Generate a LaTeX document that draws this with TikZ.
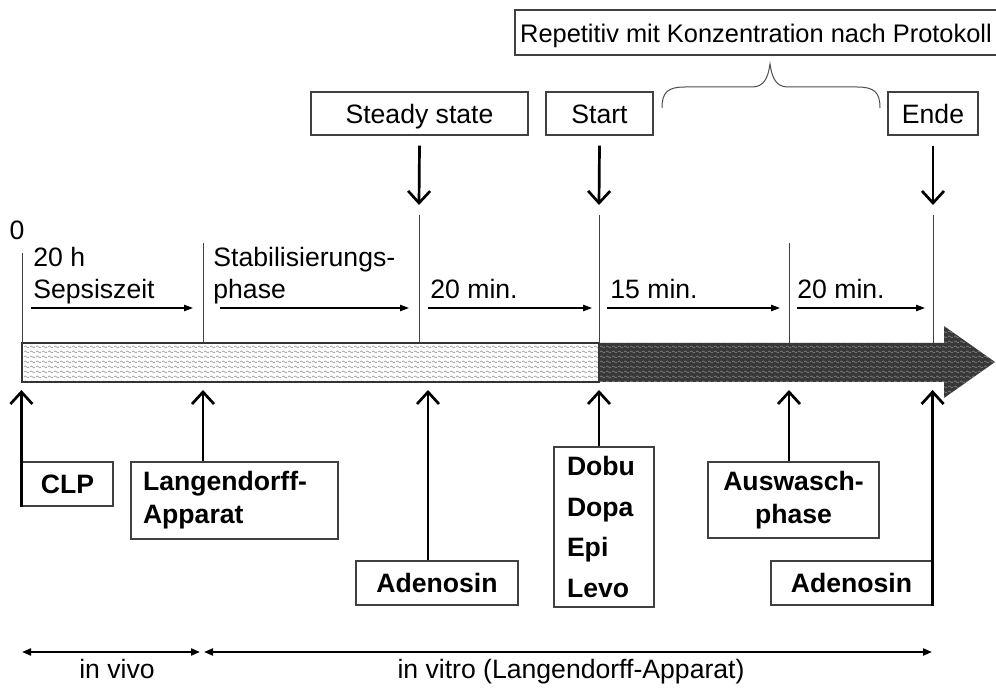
\documentclass[tikz,border=0pt]{standalone}
\usepackage{fontspec}
\setmainfont{Liberation Sans}
\usetikzlibrary{positioning}
\usetikzlibrary{arrows.meta}
\usetikzlibrary{patterns.meta}

\tikzdeclarepattern{
  name=waves,
  type=uncolored,
  bounding box={(0,0) and (3pt,2.5pt)},
  tile size={(3pt,2.5pt)},
  code={
    \draw[line width=0.35pt] (0,1.25pt) sin (0.75pt,1.8pt) cos (1.5pt,1.25pt) sin (2.25pt,0.7pt) cos (3pt,1.25pt);
  }
}

\begin{document}
\begin{tikzpicture}
    [
    x=0.5pt, y=-0.5pt,
    every node/.style={font=\fontsize{13.3}{16}\selectfont, inner sep=0pt},
    topbox/.style={draw=black!75, line width=0.6pt, minimum height=21.5pt, text height=9.6pt, text depth=0pt},
    drugbox/.style={draw=black!75, line width=0.6pt, font=\fontsize{13.3}{16.5}\selectfont\bfseries},
    tick/.style={draw=black!75, line width=0.5pt},
    bigarrow/.style={line width=1.35pt, -{Straight Barb[length=6pt,width=11pt]}},
    phasearrow/.style={line width=0.65pt, -{Triangle[length=4.5pt,width=3.2pt]}},
    rangearrow/.style={line width=1pt, {Triangle[length=4.5pt,width=3.5pt]}-{Triangle[length=4.5pt,width=3.5pt]}},
    ]

    \useasboundingbox (0,0) rectangle (996,689);

    % time bar
    \fill[white] (22,343) rectangle (599,382);
    \fill[pattern=waves, pattern color=black!40] (22,343) rectangle (599,382);
    \draw[black!80, line width=0.6pt] (22,343) rectangle (599,382);
    \fill[black!78] (599,343) -- (944,343) -- (944,326) -- (995,362) -- (944,398) -- (944,382) -- (599,382) -- cycle;
    \fill[pattern=waves, pattern color=black!50] (599,343) -- (944,343) -- (944,326) -- (995,362) -- (944,398) -- (944,382) -- (599,382) -- cycle;

    \coordinate (t0) at (22,343);
    \coordinate (t1) at (203,343);
    \coordinate (t2) at (419,343);
    \coordinate (t3) at (599,343);
    \coordinate (t4) at (789,343);
    \coordinate (t5) at (933,343);
    \coordinate (bar_low) at (0,390);
    \coordinate (in_ade) at (428,390);

    \draw[tick] (22,253) -- (t0);
    \draw[tick] (203,243) -- (t1);
    \draw[tick] (419,215) -- (t2);
    \draw[tick] (599,215) -- (t3);
    \draw[tick] (789,243) -- (t4);
    \draw[tick] (933,215) -- (t5);

    % phases
    \coordinate (m0) at (22,308);
    \coordinate (m1) at (203,308);
    \coordinate (m2) at (419,308);
    \coordinate (m3) at (599,308);
    \coordinate (m4) at (789,308);
    \coordinate (m5) at (933,308);

    \node[anchor=base] (lbl_zero) at (17,240) {0};
    \node[anchor=base west, align=left] (lbl_sepsis) at (33,299) {20 h\\Sepsiszeit};
    \node[anchor=base west, align=left] (lbl_stab) at (213,299) {Stabilisierungs-\\phase};
    \node[anchor=base west] (lbl_twenty_a) at (430,299) {20 min.};
    \node[anchor=base west] (lbl_fifteen) at (610,299) {15 min.};
    \node[anchor=base west] (lbl_twenty_b) at (797,299) {20 min.};

    \draw[phasearrow] ([xshift=4.5pt]m0) -- ([xshift=-5pt]m1);
    \draw[phasearrow] ([xshift=8.5pt]m1) -- ([xshift=-5pt]m2);
    \draw[phasearrow] ([xshift=4.5pt]m2) -- ([xshift=-3.5pt]m3);
    \draw[phasearrow] ([xshift=4pt]m3) -- ([xshift=-4.5pt]m4);
    \draw[phasearrow] ([xshift=4pt]m4) -- ([xshift=-4pt]m5);

    % events above
    \node[topbox, minimum width=108.5pt] (box_steady) at (419.5,113.5) {Steady state};
    \node[topbox, minimum width=53.5pt] (box_start) at (599.5,113.5) {Start};
    \node[topbox, minimum width=45pt] (box_ende) at (933,113.5) {Ende};
    \node[topbox, minimum width=241pt, minimum height=22.5pt, font=\fontsize{12.7}{15}\selectfont] (box_rep) at (756,32.5) {Repetitiv mit Konzentration nach Protokoll};

    \draw[black!70, line width=0.5pt] (662,108) .. controls (662,92) and (668,87) .. (685,87) -- (752,87) .. controls (764,87) and (768,78) .. (770,64) .. controls (772,78) and (776,87) .. (788,87) -- (857,87) .. controls (874,87) and (880,92) .. (880,108);

    \coordinate (d2) at (419,205);
    \coordinate (d3) at (599,205);
    \coordinate (d5) at (933,205);
    \draw[bigarrow] ([yshift=-5pt]box_steady.south) -- (d2);
    \draw[bigarrow] ([yshift=-5pt]box_start.south) -- (d3);
    \draw[bigarrow] ([yshift=-5pt]box_ende.south) -- (d5);

    % events below
    \node[drugbox, minimum width=45.5pt, minimum height=22pt] (box_clp) at (67.5,484) {CLP};
    \node[drugbox, align=left, text width=91.5pt, inner xsep=6pt, minimum height=38.5pt] (box_langendorff) at (234.5,500.5) {Langendorff-\\Apparat};
    \node[drugbox, minimum width=81pt, minimum height=22pt] (box_ade_a) at (437,583) {Adenosin};
    \node[drugbox, align=left, text width=37pt, inner xsep=6.5pt, minimum height=80pt, font=\fontsize{13.3}{20.3}\selectfont\bfseries] (box_drugs) at (604,527) {Dobu\\Dopa\\Epi\\Levo};
    \node[drugbox, align=center, minimum width=85.5pt, minimum height=38pt] (box_wash) at (793.5,500) {Auswasch-\\phase};
    \node[drugbox, minimum width=80.5pt, minimum height=22pt] (box_ade_b) at (851.5,583) {Adenosin};

    \draw[bigarrow] (box_clp.south west) -- (box_clp.south west |- bar_low);
    \draw[bigarrow] (box_langendorff.north -| t1) -- (t1 |- bar_low);
    \draw[bigarrow] (box_ade_a.north -| in_ade) -- (in_ade);
    \draw[bigarrow] (box_drugs.north -| t3) -- (t3 |- bar_low);
    \draw[bigarrow] (box_wash.north -| t4) -- (t4 |- bar_low);
    \draw[bigarrow] (box_ade_b.south east) -- (box_ade_b.south east |- bar_low);

    % in vivo / in vitro
    \coordinate (r0) at (22,652);
    \coordinate (r1) at (200,652);
    \coordinate (r2) at (204,652);
    \coordinate (r3) at (932,652);
    \draw[rangearrow] (r0) -- (r1);
    \draw[rangearrow] (r2) -- (r3);
    \node[anchor=base] (lbl_vivo) at (117,678) {in vivo};
    \node[anchor=base] (lbl_vitro) at (571,678) {in vitro (Langendorff-Apparat)};
\end{tikzpicture}
\end{document}
